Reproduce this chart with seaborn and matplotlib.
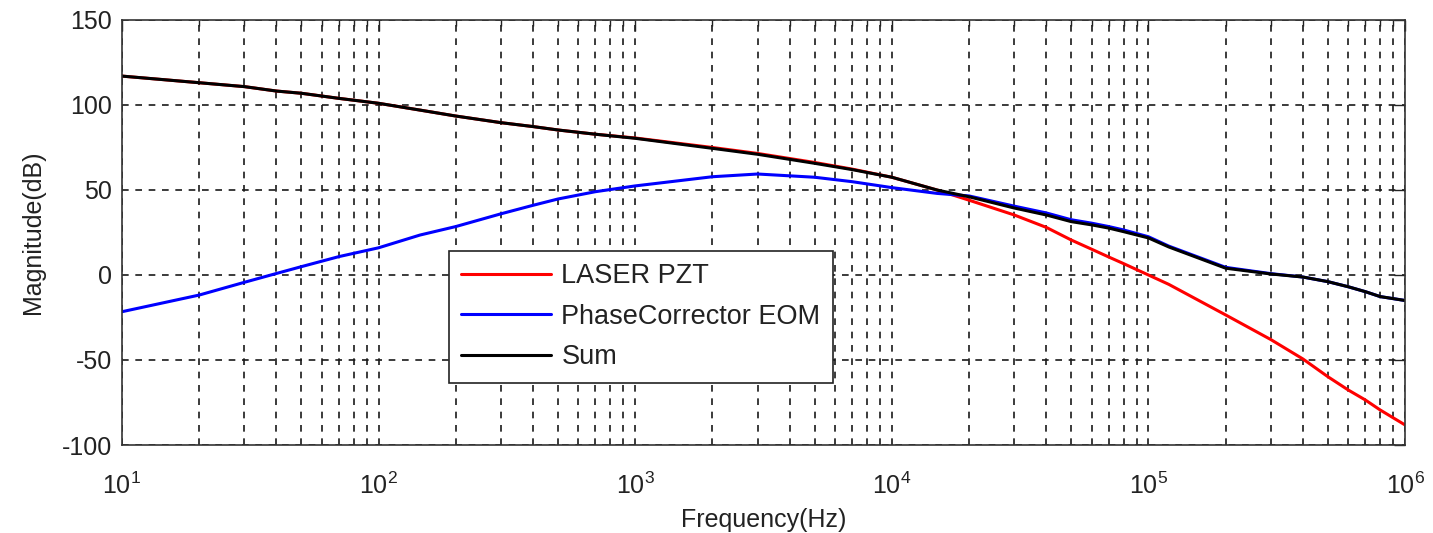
import numpy as np
import pandas as pd
import matplotlib
matplotlib.use("Agg")
import matplotlib.pyplot as plt
import seaborn as sns

# ---------------------------------------------------------
# Bode magnitude values
# ---------------------------------------------------------
freq_hz = [10, 20, 30, 40, 50, 70, 100, 145, 200, 300, 400, 500, 700,
           1e3, 2e3, 3e3, 5e3, 7e3, 1e4, 1.5e4, 2e4, 3e4, 4e4, 5e4, 6e4,
           7e4, 8e4, 1e5, 1.2e5, 2e5, 3e5, 4e5, 5e5, 6e5, 7e5, 8e5, 1e6]

laser_pzt_db = [117, 113.1, 110.8, 108.2, 106.9, 103.9, 101, 97, 93.5,
                89.6, 87.3, 85.3, 82.8, 80.6, 75, 71.5, 66.2, 62.3, 57.5,
                50, 44, 35.3, 28, 20.6, 15.2, 10.6, 6.7, 0, -5.5, -23.5,
                -38, -49.4, -59.8, -67.6, -73.5, -79.4, -88.2]

phase_eom_db = [-21.6, -11.8, -4.3, 0.9, 4.9, 10.8, 16, 23.5, 28.5, 36,
                41, 44.7, 49, 52.4, 57.8, 59.4, 57.5, 54.9, 51.4, 48,
                46.5, 40.5, 36.5, 32.5, 30.5, 28.5, 26.5, 22.5, 17, 4.5,
                0.8, -1.2, -3.9, -6.9, -9.8, -12.7, -15]

sum_db = [117, 113.1, 110.8, 108.2, 106.9, 103.9, 101, 97, 93.5, 89.6,
          87.3, 85.3, 82.8, 80.4, 74.5, 71, 65.7, 62, 57.5, 50, 46, 39.4,
          35.3, 31.4, 29.5, 27.6, 25.5, 21.8, 16.5, 4, 0.6, -1.2, -3.9,
          -6.9, -9.8, -12.7, -15]

series_names = ["LASER PZT", "PhaseCorrector EOM", "Sum"]
series_colors = ["#ff0000", "#0000ff", "#000000"]

sns.set_style("white")
plt.rcParams["font.family"] = ["Liberation Sans", "DejaVu Sans"]
plt.rcParams["mathtext.default"] = "regular"
plt.rcParams["axes.unicode_minus"] = False

fig = plt.figure(figsize=(14.33, 5.33), dpi=100)
ax = fig.add_axes([0.0851, 0.1651, 0.8954, 0.7974])

for name, vals, color in zip(series_names,
                             [laser_pzt_db, phase_eom_db, sum_db],
                             series_colors):
    df = pd.DataFrame({"f": freq_hz, "mag": vals})
    sns.lineplot(data=df, x="f", y="mag", ax=ax, color=color,
                 linewidth=2.2, label=name)

ax.set_xscale("log")
ax.set_xlim(10, 1e6)
ax.set_ylim(-100, 150)
ax.set_yticks([-100, -50, 0, 50, 100, 150])

# MATLAB style dashed grid
grid_kw = dict(color="#1a1a1a", linestyle=(0, (4, 4)), linewidth=1.2)
ax.grid(True, which="major", axis="both", **grid_kw)
ax.grid(True, which="minor", axis="x", **grid_kw)

ax.tick_params(which="both", direction="in", top=True, right=True,
               colors="#222222", labelcolor="#222222", labelsize=18)
ax.tick_params(which="major", length=8, width=1)
ax.tick_params(which="minor", length=4, width=1)
ax.tick_params(axis="x", which="major", pad=20)
ax.tick_params(axis="y", which="major", pad=7)

for sp in ax.spines.values():
    sp.set_color("#333333")
    sp.set_linewidth(1.2)

ax.set_xlabel("Frequency(Hz)", fontsize=18, color="#222222", labelpad=6)
ax.set_ylabel("Magnitude(dB)", fontsize=18, color="#222222", labelpad=12)

leg = ax.legend(loc="upper left", bbox_to_anchor=(0.2549, 0.4565),
                borderaxespad=0, fontsize=19.5, frameon=True, fancybox=False,
                framealpha=1, handlelength=3.3, handletextpad=0.4,
                labelspacing=0.54, borderpad=0.45)
leg.get_frame().set_edgecolor("#222222")
leg.get_frame().set_linewidth(1.2)
for txt in leg.get_texts():
    txt.set_color("#222222")

fig.savefig("out.png", dpi=100)
